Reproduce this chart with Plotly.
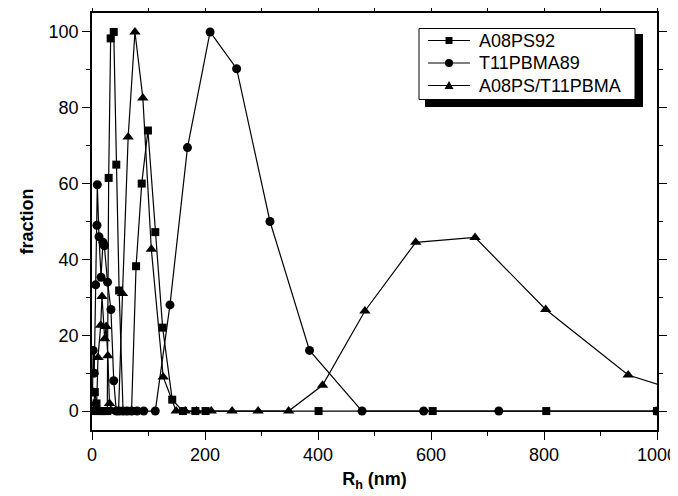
import plotly.graph_objects as go

# A08PS92 (squares)
sq_x = [2, 5, 8, 12, 16, 20, 24, 27, 29.5, 33, 38.5, 43, 48, 55, 62, 70, 78, 88, 99, 112, 125, 142, 161, 183, 201, 401, 603, 804, 1000]
sq_y = [0, 5, 2, 0, 0, 0, 0, 0, 61.5, 98.3, 100, 65, 31.8, 0, 0, 0, 38.2, 60, 74, 47.2, 22, 3, 0, 0, 0, 0, 0, 0, 0]

# T11PBMA89 (circles)
ci_x = [1, 2, 4, 6.5, 8.8, 9.4, 12.4, 16, 19.5, 21.8, 27.5, 33.5, 38.5, 43, 48, 55, 62, 70, 80, 91.5, 112, 138, 169, 209, 256, 315, 385, 478, 587, 720, 1000]
ci_y = [5, 16, 10, 33.3, 49, 59.7, 46, 35.3, 44.5, 43.6, 34, 26.8, 8, 0, 0, 0, 0, 0, 0, 0, 0, 28, 69.5, 100, 90.3, 50, 16, 0, 0, 0, 0]

# A08PS/T11PBMA (triangles)
tr_x = [2, 5, 8, 10.6, 15.4, 17.7, 22.4, 25, 28, 31, 35, 41, 47, 54, 64, 76, 90, 105, 126, 149, 165, 185, 211, 248, 294, 348, 408, 483, 573, 678, 803, 949, 1150]
tr_y = [0, 2, 0, 14.1, 22.6, 30.2, 19.1, 22.3, 14.6, 2, 0, 0, 0, 31, 72.3, 100, 82.6, 42.7, 9, 0, 0, 0, 0, 0, 0, 0, 6.8, 26.4, 44.5, 45.8, 26.8, 9.5, 0]

series = [
    ("A08PS92", sq_x, sq_y, "square", 8),
    ("T11PBMA89", ci_x, ci_y, "circle", 9),
    ("A08PS/T11PBMA", tr_x, tr_y, "triangle-up", 10),
]

FONT = "Liberation Sans"

fig = go.Figure()
for name, xs, ys, sym, size in series:
    fig.add_trace(go.Scatter(
        x=xs, y=ys, name=name, mode="lines+markers", showlegend=False,
        line=dict(color="black", width=1.2),
        marker=dict(symbol=sym, size=size, color="black", line=dict(width=0)),
    ))

# page has an 8px body margin; figure is sized so the plot lands where the reference has it
OFF = 8
W, H = 678 - OFF, 496 - OFF
L, R, T, B = 92 - OFF, 21, 13 - OFF, 66
pw, ph = W - L - R, H - T - B

def px(xp):
    return (xp - OFF - L) / pw

def py(yp):
    return (H - B - (yp - OFF)) / ph

axis_common = dict(
    showgrid=False, zeroline=False, showline=True, linecolor="black", linewidth=1.5,
    mirror="allticks", ticks="outside", ticklen=8, tickwidth=1.2, tickcolor="black",
    tickfont=dict(family=FONT, size=18, color="black"), automargin=False,
)

fig.update_xaxes(
    range=[0, 1000], tick0=0, dtick=200,
    minor=dict(ticks="outside", ticklen=4, dtick=100, tickcolor="black", tickwidth=1.2),
    title=dict(text="<b>R<sub>h</sub> (nm)</b>", font=dict(family=FONT, size=18, color="black"), standoff=8),
    **axis_common,
)
fig.update_yaxes(
    range=[-5, 105], tick0=0, dtick=20,
    minor=dict(ticks="outside", ticklen=4, dtick=10, tickcolor="black", tickwidth=1.2),
    title=dict(text="<b>fraction</b>", font=dict(family=FONT, size=18, color="black"), standoff=10),
    **axis_common,
)

# ---- hand-drawn legend with drop shadow (pixel positions of the reference page) ----
shapes = []
shapes.append(dict(type="rect", xref="paper", yref="paper",
                   x0=px(425), x1=px(643), y0=py(107), y1=py(34),
                   fillcolor="black", line=dict(width=0), layer="above"))
shapes.append(dict(type="rect", xref="paper", yref="paper",
                   x0=px(419), x1=px(635), y0=py(99.5), y1=py(28.5),
                   fillcolor="white", line=dict(color="black", width=1), layer="above"))
row_y = [40.5, 63, 85.5]
mx = 449
for (name, _, _, sym, _), yy in zip(series, row_y):
    shapes.append(dict(type="line", xref="paper", yref="paper",
                       x0=px(428), x1=px(470), y0=py(yy), y1=py(yy),
                       line=dict(color="black", width=1.2), layer="above"))
    if sym == "square":
        shapes.append(dict(type="rect", xref="paper", yref="paper",
                           x0=px(mx - 3.5), x1=px(mx + 3.5), y0=py(yy + 3.5), y1=py(yy - 3.5),
                           fillcolor="black", line=dict(width=0), layer="above"))
    elif sym == "circle":
        shapes.append(dict(type="circle", xref="paper", yref="paper",
                           x0=px(mx - 4), x1=px(mx + 4), y0=py(yy + 4), y1=py(yy - 4),
                           fillcolor="black", line=dict(width=0), layer="above"))
    else:
        path = "M {:.5f},{:.5f} L {:.5f},{:.5f} L {:.5f},{:.5f} Z".format(
            px(mx - 4.5), py(yy + 3.5), px(mx + 4.5), py(yy + 3.5), px(mx), py(yy - 4.5))
        shapes.append(dict(type="path", xref="paper", yref="paper", path=path,
                           fillcolor="black", line=dict(width=0), layer="above"))
    fig.add_annotation(x=px(477), y=py(yy), xref="paper", yref="paper",
                       text=name, showarrow=False, xanchor="left", yanchor="middle",
                       font=dict(family=FONT, size=18, color="black"))

fig.update_layout(
    width=W, height=H,
    margin=dict(l=L, r=R, t=T, b=B),
    paper_bgcolor="white", plot_bgcolor="white",
    font=dict(family=FONT, size=18, color="black"),
    shapes=shapes,
    showlegend=False,
)

fig.write_html("out.html")
